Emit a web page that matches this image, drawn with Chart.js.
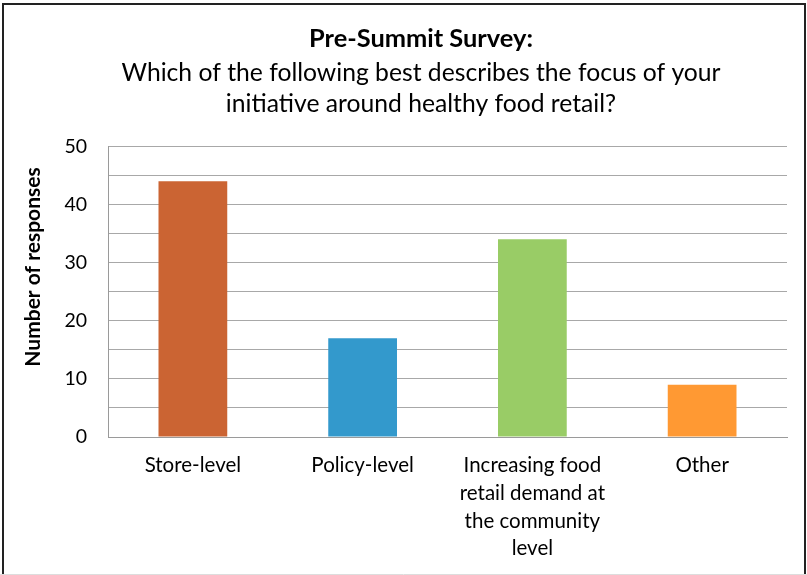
<!DOCTYPE html>
<html>
<head>
<meta charset="utf-8">
<script src="https://cdn.jsdelivr.net/npm/chart.js@4/dist/chart.umd.min.js"></script>
<style>
html,body{margin:0;padding:0;background:#fff;}
#wrap{width:807px;height:575px;position:relative;}
</style>
</head>
<body>
<div id="wrap"><canvas id="c" width="807" height="575"></canvas></div>
<script>
const categories = [
  ['Store-level'],
  ['Policy-level'],
  ['Increasing food', 'retail demand at', 'the community', 'level'],
  ['Other']
];
const responses = [44, 17, 34, 9];
const barColors = ['#CB6433', '#3399CC', '#99CC66', '#FF9933'];
const titleLine = 'Pre-Summit Survey:';
const subtitleLines = ['Which of the following best describes the focus of your', 'initiative around healthy food retail?'];
const yAxisTitle = 'Number of responses';

const FONT = "Lato, 'Open Sans', sans-serif";

const borderPlugin = {
  id: 'outerBorder',
  afterDraw(chart) {
    const ctx = chart.ctx;
    ctx.save();
    ctx.strokeStyle = '#222';
    ctx.lineWidth = 2;
    ctx.beginPath();
    ctx.moveTo(3, 580);
    ctx.lineTo(3, 4);
    ctx.lineTo(805, 4);
    ctx.lineTo(805, 580);
    ctx.stroke();
    ctx.strokeStyle = '#ddd';
    ctx.lineWidth = 1;
    ctx.beginPath();
    ctx.moveTo(0, 574.5);
    ctx.lineTo(807, 574.5);
    ctx.stroke();
    ctx.restore();
  }
};

const yTitlePlugin = {
  id: 'yTitle',
  afterDraw(chart) {
    const ctx = chart.ctx;
    ctx.save();
    ctx.translate(33, 267);
    ctx.rotate(-Math.PI / 2);
    ctx.fillStyle = '#000';
    ctx.font = "bold 21px " + FONT;
    ctx.textAlign = 'center';
    ctx.textBaseline = 'middle';
    ctx.fillText(yAxisTitle, 0, 0);
    ctx.restore();
  }
};

new Chart(document.getElementById('c'), {
  type: 'bar',
  data: {
    labels: categories,
    datasets: [{
      data: responses,
      backgroundColor: barColors,
      borderWidth: 0,
      barPercentage: 0.405,
      categoryPercentage: 1
    }]
  },
  options: {
    responsive: false,
    animation: false,
    devicePixelRatio: 1,
    layout: { padding: { left: 55, right: 20, top: 20, bottom: 0 } },
    plugins: {
      legend: { display: false },
      tooltip: { enabled: false },
      title: {
        display: true,
        text: titleLine,
        color: '#000',
        font: { family: FONT, size: 25.4, weight: 'bold', lineHeight: 1.2 },
        padding: { top: 4, bottom: 3 }
      },
      subtitle: {
        display: true,
        text: subtitleLines,
        color: '#000',
        font: { family: FONT, size: 24.7, weight: 'normal', lineHeight: 1.26 },
        padding: { top: 0, bottom: 26.6 }
      }
    },
    scales: {
      x: {
        grid: { display: false, drawTicks: false },
        border: { display: true, color: '#9a9a9a', width: 1 },
        ticks: {
          color: '#000',
          font: { family: FONT, size: 20.5, lineHeight: 1.35 },
          padding: 15,
          maxRotation: 0,
          autoSkip: false
        },
        afterFit(scale) { scale.height = 575 - 437; }
      },
      y: {
        min: 0,
        max: 50,
        grid: { color: '#a8a8a8', lineWidth: 1, drawTicks: false },
        border: { display: true, color: '#9a9a9a', width: 1 },
        ticks: {
          stepSize: 5,
          color: '#000',
          font: { family: FONT, size: 19.5 },
          padding: 21,
          callback: (v) => (v % 10 === 0 ? String(v) : '')
        },
        title: { display: false },
        afterFit(scale) { scale.width = 53; }
      }
    }
  },
  plugins: [borderPlugin, yTitlePlugin]
});
</script>
</body>
</html>
